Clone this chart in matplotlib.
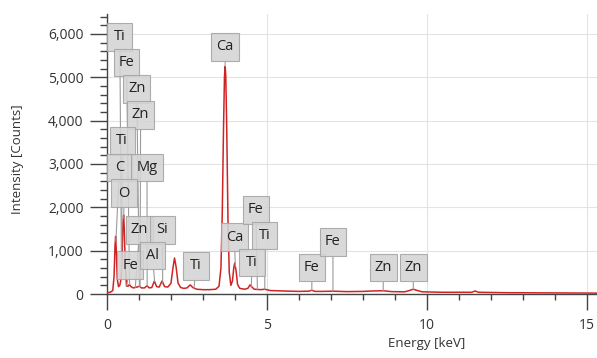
import numpy as np
import matplotlib
matplotlib.use("Agg")
import matplotlib.pyplot as plt
from matplotlib.path import Path
from matplotlib.ticker import MultipleLocator, FuncFormatter

plt.rcParams['font.family'] = ['Open Sans', 'DejaVu Sans']

# ---- spectrum data (energy keV, counts) ----
energy = [0.00, 0.10, 0.18, 0.22, 0.25, 0.27, 0.29, 0.32, 0.36, 0.40, 0.44, 0.47,
          0.50, 0.52, 0.54, 0.57, 0.61, 0.66, 0.70, 0.75, 0.82, 0.88, 0.94, 1.01,
          1.08, 1.17, 1.25, 1.32, 1.40, 1.48, 1.55, 1.63, 1.72, 1.80, 1.90, 2.00,
          2.06, 2.11, 2.16, 2.22, 2.30, 2.40, 2.50, 2.60, 2.68, 2.80, 3.00, 3.20,
          3.40, 3.50, 3.56, 3.60, 3.64, 3.67, 3.69, 3.71, 3.74, 3.78, 3.82, 3.87,
          3.92, 3.96, 3.99, 4.03, 4.08, 4.15, 4.30, 4.40, 4.47, 4.53, 4.60, 4.80,
          4.93, 5.10, 5.50, 6.00, 6.30, 6.40, 6.50, 6.70, 7.06, 7.50, 8.00, 8.30,
          8.63, 8.90, 9.30, 9.45, 9.57, 9.70, 9.85, 10.50, 11.40, 11.50, 11.60,
          12.50, 14.00, 15.40]
counts = [30, 40, 80, 400, 1100, 1330, 1000, 350, 170, 200, 350, 800,
          1650, 1820, 1500, 700, 180, 180, 220, 170, 140, 150, 160, 180,
          140, 140, 190, 140, 150, 300, 170, 160, 300, 170, 160, 250,
          600, 830, 620, 250, 150, 130, 140, 210, 150, 110, 100, 100,
          110, 180, 600, 1800, 3800, 5000, 5250, 5050, 3900, 1700, 500, 200,
          300, 600, 715, 550, 220, 130, 110, 130, 210, 160, 110, 100,
          110, 80, 70, 60, 65, 85, 60, 60, 65, 55, 60, 70,
          75, 55, 50, 80, 110, 80, 50, 40, 40, 70, 40,
          30, 25, 20]

# ---- element markers ----
elements  = ['Ti', 'Fe', 'Zn', 'Zn', 'Ti', 'C', 'Mg', 'O', 'Zn', 'Si', 'Fe', 'Al', 'Ti',
             'Ca', 'Ca', 'Fe', 'Ti', 'Ti', 'Fe', 'Fe', 'Zn', 'Zn']
line_keV  = [0.452, 0.705, 1.012, 1.034, 0.458, 0.277, 1.254, 0.525, 0.884, 1.740, 0.615, 1.487, 2.72,
             3.69, 4.01, 4.70, 4.93, 4.51, 6.40, 7.06, 8.63, 9.57]

# layout of the label boxes (box centre, keV / counts)
box_x = [0.40, 0.61, 0.93, 1.05, 0.47, 0.39, 1.25, 0.53, 1.02, 1.73, 0.72, 1.42, 2.78,
         3.69, 3.98, 4.65, 4.93, 4.53, 6.40, 7.06, 8.63, 9.57]
box_y = [5930, 5340, 4730, 4130, 3530, 2920, 2920, 2330, 1480, 1480, 660, 890, 650,
         5700, 1315, 1940, 1350, 727, 610, 1200, 610, 610]


def label_box(x0, y0, width, height, mutation_size):
    """Rectangle with separate horizontal/vertical padding and a minimum width."""
    hpad = 0.34 * mutation_size
    vpad = 0.44 * mutation_size
    w = max(width + 2 * hpad, 1.72 * mutation_size)
    cx = x0 + width / 2
    x1, x2 = cx - w / 2, cx + w / 2
    y1, y2 = y0 - vpad, y0 + height + vpad
    return Path([(x1, y1), (x2, y1), (x2, y2), (x1, y2), (x1, y1)], closed=True)


fig = plt.figure(figsize=(5.97, 3.58), dpi=100)
ax = fig.add_axes([107/597, 1 - 294/358, 1 - 107/597, (294 - 14)/358])

ax.plot(energy, counts, color='#d02424', lw=1.1, zorder=3)

for el, e, bx, by in zip(elements, line_keV, box_x, box_y):
    tip = np.interp(e, energy, counts)
    ax.annotate(el, xy=(e, tip), xytext=(bx, by), ha='center', va='center',
                fontsize=10.5, color='#222222', zorder=5,
                bbox=dict(boxstyle=label_box, fc='#d4d4d4', ec='#a4a4a4',
                          lw=0.8, alpha=0.88),
                arrowprops=dict(arrowstyle='-', color='#9a9a9a', lw=0.8,
                                shrinkA=0, shrinkB=0))

ax.set_xlim(0, 15.31)
ax.set_ylim(0, 6460)

ax.xaxis.set_major_locator(MultipleLocator(5))
ax.xaxis.set_minor_locator(MultipleLocator(1))
ax.yaxis.set_major_locator(MultipleLocator(1000))
ax.yaxis.set_minor_locator(MultipleLocator(200))
ax.yaxis.set_major_formatter(FuncFormatter(lambda v, p: f"{int(v):,}"))

for s in ['top', 'right']:
    ax.spines[s].set_visible(False)
for s in ['left', 'bottom']:
    ax.spines[s].set_color('#444444')
    ax.spines[s].set_linewidth(1.0)

ax.tick_params(axis='x', which='major', length=11.5, width=1, color='#444444',
               labelsize=10, labelcolor='#333333', pad=6)
ax.tick_params(axis='x', which='minor', length=4.3, width=1, color='#444444')
ax.tick_params(axis='y', which='major', length=12, width=1, color='#444444',
               labelsize=10, labelcolor='#333333', pad=5)
ax.tick_params(axis='y', which='minor', length=5, width=1, color='#444444')

ax.grid(True, which='major', color='#e3e3e3', lw=0.8, zorder=0)
ax.set_axisbelow(True)

ax.set_xlabel('Energy [keV]', fontsize=9.5, color='#333333')
ax.set_ylabel('Intensity [Counts]', fontsize=9.5, color='#333333')
ax.xaxis.set_label_coords(10 / 15.31, -0.155)
ax.yaxis.set_label_coords(-0.17, 0.48)

fig.savefig('out.png', dpi=100)
